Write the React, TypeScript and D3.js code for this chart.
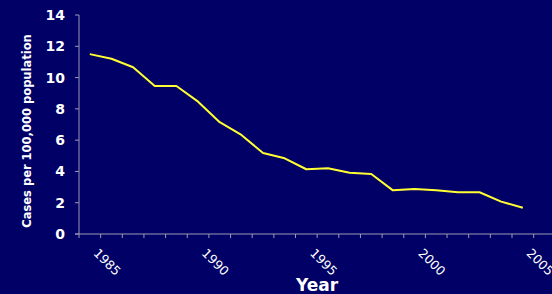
import React from "react";
import * as d3 from "d3";

const years = [1985,1986,1987,1988,1989,1990,1991,1992,1993,1994,1995,1996,1997,1998,1999,2000,2001,2002,2003,2004,2005];
const cases = [11.5,11.2,10.66,9.46,9.46,8.46,7.15,6.33,5.18,4.84,4.14,4.2,3.92,3.84,2.79,2.88,2.8,2.67,2.67,2.07,1.68];
const yTicks = [0,2,4,6,8,10,12,14];
const labelYears = [1985,1990,1995,2000,2005];

const W = 552, H = 294;
const left = 79, top = 15, bottom = 234;
const step = 21.65;

export default function App() {
  const x = d3.scaleLinear().domain([0, 1]).range([left, left + step]);
  const cx = (i: number) => x(i + 0.5);
  const y = d3.scaleLinear().domain([0, 14]).range([bottom, top]);
  const line = d3.line<number>().x((_, i) => cx(i)).y(d => y(d));
  const nTicks = 23;
  const axisColor = "#9a9ab4";
  const font = "'DejaVu Sans', Verdana, sans-serif";
  return (
    <svg width={W} height={H} style={{ position: "absolute", left: 0, top: 0, display: "block" }}>
      <rect x={0} y={0} width={W} height={H} fill="#000066" />
      <line x1={left} x2={left} y1={top} y2={bottom} stroke={axisColor} strokeWidth={1} />
      {yTicks.map(t => (
        <g key={t}>
          <line x1={left - 4} x2={left} y1={y(t)} y2={y(t)} stroke={axisColor} />
          <text x={65} y={y(t)} dy="0.36em" textAnchor="end" fill="#fff" fontFamily={font} fontWeight="bold" fontSize={14}>{t}</text>
        </g>
      ))}
      <line x1={left - 4} x2={W} y1={bottom} y2={bottom} stroke={axisColor} strokeWidth={1} />
      {d3.range(nTicks).map(i => (
        <line key={i} x1={x(i)} x2={x(i)} y1={bottom} y2={bottom + 4} stroke={axisColor} />
      ))}
      {labelYears.map(yr => {
        const i = years.indexOf(yr);
        const px = cx(i) + 3, py = 254;
        return (
          <text key={yr} x={px} y={py} transform={`rotate(45 ${px} ${py})`} fill="#fff" fontFamily={font} fontSize={12.5}>{yr}</text>
        );
      })}
      <path d={line(cases) || ""} fill="none" stroke="#ffff33" strokeWidth={2} strokeLinejoin="round" />
      <text x={317} y={291} textAnchor="middle" fill="#fff" fontFamily={font} fontWeight="bold" fontSize={17}>Year</text>
      <text transform={`translate(31 ${131}) rotate(-90)`} textAnchor="middle" fill="#fff" fontFamily={font} fontWeight="bold" fontSize={11.5}>Cases per 100,000 population</text>
    </svg>
  );
}
